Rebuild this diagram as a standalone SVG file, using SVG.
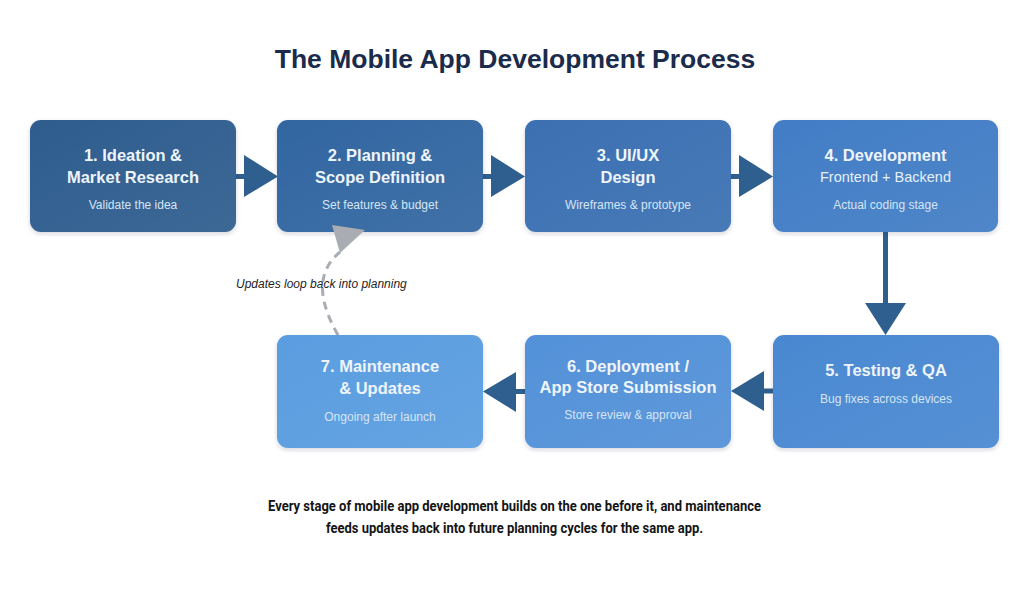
<svg xmlns="http://www.w3.org/2000/svg" width="1024" height="599" viewBox="0 0 1024 599">
  <defs>
    <linearGradient id="sheen" x1="0" y1="0" x2="1" y2="1">
      <stop offset="0" stop-color="#ffffff" stop-opacity="0"/>
      <stop offset="1" stop-color="#ffffff" stop-opacity="0.07"/>
    </linearGradient>
    <filter id="shadow" x="-10%" y="-10%" width="120%" height="130%">
      <feDropShadow dx="0" dy="2" stdDeviation="2" flood-color="#1a2b4c" flood-opacity="0.18"/>
    </filter>
  </defs>
  <style>
    .box { filter: url(#shadow); }
    .sheen { fill: url(#sheen); }
    .t { font-family: "Liberation Sans", Arial, sans-serif; font-weight: 700; font-size: 16.5px; fill: #eef4fb; text-anchor: middle; }
    .t2 { font-family: "Liberation Sans", Arial, sans-serif; font-size: 14.5px; fill: #e6f0fa; text-anchor: middle; }
    .s { font-family: "Liberation Sans", Arial, sans-serif; font-size: 12px; fill: #d6e5f4; text-anchor: middle; }
    .title { font-family: "Liberation Sans", Arial, sans-serif; font-weight: 700; font-size: 26.5px; fill: #1b2b4b; text-anchor: middle; }
    .lbl { font-family: "Liberation Sans", Arial, sans-serif; font-style: italic; font-size: 12px; fill: #1e1e1e; }
    .foot { font-family: Roboto, "Liberation Sans", sans-serif; font-weight: 700; font-size: 14px; fill: #141414; }
    .arw { fill: #2e5f8e; }
    .shaft { stroke: #2e5f8e; stroke-width: 5; fill: none; }
  </style>
  <rect width="1024" height="599" fill="#ffffff"/>
  <text class="title" x="515" y="68">The Mobile App Development Process</text>

  <g id="connectors">
    <line class="shaft" x1="236" y1="176.5" x2="246" y2="176.5"/>
    <polygon class="arw" points="244,155 278,176.5 244,197"/>
    <line class="shaft" x1="483" y1="176.5" x2="493" y2="176.5"/>
    <polygon class="arw" points="491,155 525,176.5 491,197"/>
    <line class="shaft" x1="731" y1="176.5" x2="741" y2="176.5"/>
    <polygon class="arw" points="739,155 773,176.5 739,197"/>
    <line class="shaft" x1="885.5" y1="232" x2="885.5" y2="305"/>
    <polygon class="arw" points="865,303 906,303 885.5,335"/>
    <line class="shaft" x1="773" y1="391" x2="762" y2="391"/>
    <polygon class="arw" points="764,371 764,411 731,391"/>
    <line class="shaft" x1="525" y1="391.5" x2="514" y2="391.5"/>
    <polygon class="arw" points="516,372 516,412 483,391.5"/>
    <path d="M338,335 C318,300 316,272 340,252" fill="none" stroke="#a9adb3" stroke-width="3" stroke-dasharray="8 6"/>
    <text class="lbl" x="236" y="288">Updates loop back into planning</text>
  </g>

  <g id="node1">
    <rect class="box" x="30" y="120" width="206" height="112" rx="11" fill="#2d5d8e"/>
    <rect class="sheen" x="30" y="120" width="206" height="112" rx="11"/>
    <text class="t" x="133" y="161">1. Ideation &amp;</text>
    <text class="t" x="133" y="183">Market Research</text>
    <text class="s" x="133" y="209">Validate the idea</text>
  </g>
  <g id="node2">
    <rect class="box" x="277" y="120" width="206" height="112" rx="11" fill="#3366a1"/>
    <rect class="sheen" x="277" y="120" width="206" height="112" rx="11"/>
    <text class="t" x="380" y="161">2. Planning &amp;</text>
    <text class="t" x="380" y="183">Scope Definition</text>
    <text class="s" x="380" y="209">Set features &amp; budget</text>
  </g>
  <g id="node3">
    <rect class="box" x="525" y="120" width="206" height="112" rx="11" fill="#3a70b2"/>
    <rect class="sheen" x="525" y="120" width="206" height="112" rx="11"/>
    <text class="t" x="628" y="161">3. UI/UX</text>
    <text class="t" x="628" y="183">Design</text>
    <text class="s" x="628" y="209">Wireframes &amp; prototype</text>
  </g>
  <g id="node4">
    <rect class="box" x="773" y="120" width="225" height="112" rx="11" fill="#427dc5"/>
    <rect class="sheen" x="773" y="120" width="225" height="112" rx="11"/>
    <text class="t" x="885.5" y="161">4. Development</text>
    <text class="t2" x="885.5" y="182">Frontend + Backend</text>
    <text class="s" x="885.5" y="209">Actual coding stage</text>
  </g>
  <g id="node5">
    <rect class="box" x="773" y="335" width="226" height="113" rx="11" fill="#4a88d1"/>
    <rect class="sheen" x="773" y="335" width="226" height="113" rx="11"/>
    <text class="t" x="886" y="376">5. Testing &amp; QA</text>
    <text class="s" x="886" y="403">Bug fixes across devices</text>
  </g>
  <g id="node6">
    <rect class="box" x="525" y="335" width="206" height="113" rx="11" fill="#5291d8"/>
    <rect class="sheen" x="525" y="335" width="206" height="113" rx="11"/>
    <text class="t" x="628" y="372">6. Deployment /</text>
    <text class="t" x="628" y="393">App Store Submission</text>
    <text class="s" x="628" y="419">Store review &amp; approval</text>
  </g>
  <g id="node7">
    <rect class="box" x="277" y="335" width="206" height="113" rx="11" fill="#5a9de0"/>
    <rect class="sheen" x="277" y="335" width="206" height="113" rx="11"/>
    <text class="t" x="380" y="372">7. Maintenance</text>
    <text class="t" x="380" y="394">&amp; Updates</text>
    <text class="s" x="380" y="421">Ongoing after launch</text>
  </g>

  <polygon points="332,225 365,230 340,253" fill="#a9adb3"/>

  <text class="foot" x="268" y="511" textLength="493" lengthAdjust="spacingAndGlyphs">Every stage of mobile app development builds on the one before it, and maintenance</text>
  <text class="foot" x="326" y="533" textLength="377" lengthAdjust="spacingAndGlyphs">feeds updates back into future planning cycles for the same app.</text>
</svg>
